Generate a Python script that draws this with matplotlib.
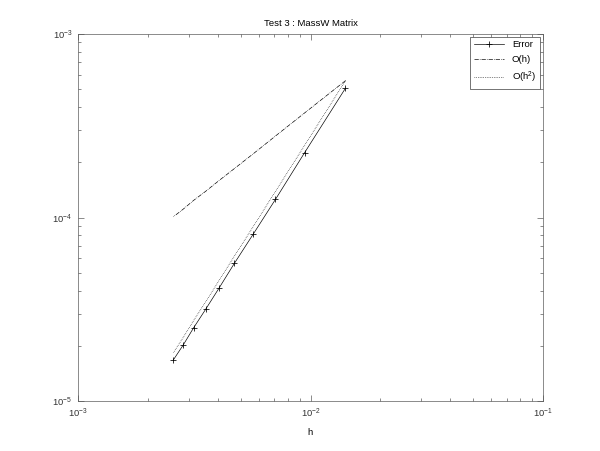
import matplotlib
matplotlib.use("Agg")
import matplotlib.pyplot as plt
from matplotlib.ticker import LogLocator, NullFormatter

plt.rcParams['font.family'] = ['Liberation Sans', 'DejaVu Sans']
plt.rcParams['mathtext.fontset'] = 'custom'
plt.rcParams['mathtext.rm'] = 'Liberation Sans'

# values
h = [0.01414, 0.00943, 0.00707, 0.00566, 0.00471, 0.00404, 0.00354, 0.00314, 0.00283, 0.00257]
err = [5.06e-4, 2.255e-4, 1.257e-4, 8.10e-5, 5.65e-5, 4.13e-5, 3.17e-5, 2.51e-5, 2.02e-5, 1.68e-5]
o_h = [5.56e-4, 3.71e-4, 2.78e-4, 2.22e-4, 1.85e-4, 1.59e-4, 1.39e-4, 1.24e-4, 1.11e-4, 1.01e-4]
o_h2 = [5.56e-4, 2.47e-4, 1.39e-4, 8.9e-5, 6.18e-5, 4.54e-5, 3.48e-5, 2.75e-5, 2.22e-5, 1.84e-5]

fig = plt.figure(figsize=(7.5, 5.6375), dpi=80)
ax = fig.add_axes([0.13, 0.11, 0.775, 0.815])

ax.loglog(h, err, 'k-', marker='+', markersize=6, markeredgewidth=0.7, linewidth=0.6, label='Error')
ax.loglog(h, o_h, 'k-.', linewidth=0.6, label='O(h)')
ax.loglog(h, o_h2, 'k:', linewidth=0.6, label='O(h$^2$)')

ax.set_xlim(1e-3, 1e-1)
ax.set_ylim(1e-5, 1e-3)
ax.set_title('Test 3 : MassW Matrix', fontsize=8.5, pad=7)
ax.set_xlabel('h', fontsize=8.5, labelpad=7)

for a in (ax.xaxis, ax.yaxis):
    a.set_major_locator(LogLocator(base=10, numticks=10))
    a.set_minor_locator(LogLocator(base=10, subs=range(2, 10), numticks=10))
    a.set_minor_formatter(NullFormatter())
ax.tick_params(which='both', direction='in', top=True, right=True, labelsize=8.5, width=0.5,
               colors='#333333', pad=5)
ax.tick_params(which='major', length=5)
ax.tick_params(which='minor', length=3)
for s in ax.spines.values():
    s.set_linewidth(0.6)
    s.set_color('#555555')

leg = ax.legend(loc='upper right', fontsize=8.5, fancybox=False, framealpha=1,
                edgecolor='#333333', borderaxespad=0.3, handlelength=3.2, labelspacing=0.6)
leg.get_frame().set_linewidth(0.6)

fig.savefig('out.png')
